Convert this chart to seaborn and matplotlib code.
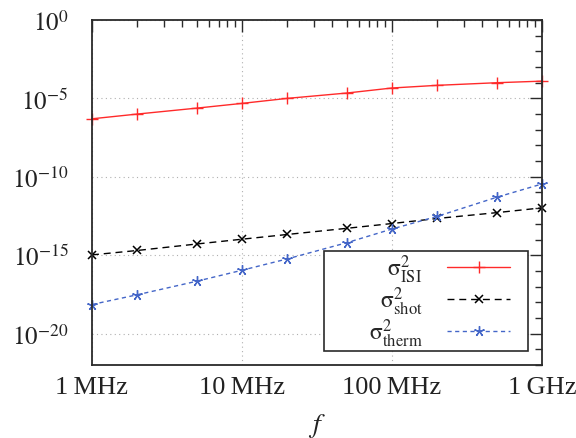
import numpy as np
import pandas as pd
import seaborn as sns
import matplotlib
matplotlib.use("Agg")
import matplotlib.pyplot as plt
from matplotlib.patches import Rectangle
from matplotlib.ticker import FixedLocator, FixedFormatter, NullFormatter

# Frequency sweep (Hz)
freq = [1e6, 2e6, 5e6, 1e7, 2e7, 5e7, 1e8, 2e8, 5e8, 1e9]

# Noise variances
sigma_isi = [5.0e-7, 1.0e-6, 2.4e-6, 4.8e-6, 1.0e-5, 2.2e-5, 4.6e-5, 6.8e-5, 1.0e-4, 1.26e-4]
sigma_shot = [1.05e-15, 2.0e-15, 5.2e-15, 1.05e-14, 2.1e-14, 5.2e-14, 1.05e-13, 2.2e-13, 5.2e-13, 1.05e-12]
sigma_therm = [7.2e-19, 3.0e-18, 2.2e-17, 1.1e-16, 5.8e-16, 6.3e-15, 4.7e-14, 3.0e-13, 5.0e-12, 3.5e-11]

x_tick_vals = [1e6, 1e7, 1e8, 1e9]
x_tick_labels = ["1\u2009MHz", "10\u2009MHz", "100\u2009MHz", "1\u2009GHz"]
y_tick_vals = [1e-20, 1e-15, 1e-10, 1e-5, 1e0]
y_tick_labels = [r"$10^{-20}$", r"$10^{-15}$", r"$10^{-10}$", r"$10^{-5}$", r"$10^{0}$"]

series_labels = [r"$\mathrm{σ}^2_{\mathrm{ISI}}$",
                 r"$\mathrm{σ}^2_{\mathrm{shot}}$",
                 r"$\mathrm{σ}^2_{\mathrm{therm}}$"]

sns.set_theme(style="white")
plt.rcParams.update({
    "font.family": "serif",
    "font.serif": ["Liberation Serif", "DejaVu Serif"],
    "mathtext.fontset": "stix",
    "axes.edgecolor": "#2a2a2a",
    "axes.linewidth": 1.3,
})

fig = plt.figure(figsize=(5.76, 4.39), dpi=100)
ax = fig.add_axes([0.1597, 0.1663, 0.7813, 0.7859])

df = pd.DataFrame({"f": freq, "isi": sigma_isi, "shot": sigma_shot, "therm": sigma_therm})

red = "#ff2a2a"
blue = "#4466c8"

sns.lineplot(data=df, x="f", y="isi", ax=ax, color=red, linewidth=1.0,
             marker="+", markersize=8.5, markeredgewidth=1.0, markeredgecolor=red,
             label=series_labels[0], clip_on=False)
sns.lineplot(data=df, x="f", y="shot", ax=ax, color="black", linewidth=1.0,
             linestyle=(0, (5, 3.5)), marker="x", markersize=5.5, markeredgewidth=1.1,
             markeredgecolor="black", label=series_labels[1], clip_on=False)
sns.lineplot(data=df, x="f", y="therm", ax=ax, color=blue, linewidth=1.0,
             linestyle=(0, (3, 2.5)), marker=(5, 2, 0), markersize=7.5, markeredgewidth=1.0,
             markeredgecolor=blue, label=series_labels[2], clip_on=False)

ax.set_xscale("log")
ax.set_yscale("log")
ax.set_xlim(1e6, 1e9)
ax.set_ylim(1e-22, 1e0)

ax.xaxis.set_major_locator(FixedLocator(x_tick_vals))
ax.xaxis.set_major_formatter(FixedFormatter(x_tick_labels))
x_minor = [m * 10 ** d for d in range(6, 9) for m in range(2, 10)]
ax.xaxis.set_minor_locator(FixedLocator(x_minor))
ax.xaxis.set_minor_formatter(NullFormatter())

ax.yaxis.set_major_locator(FixedLocator(y_tick_vals))
ax.yaxis.set_major_formatter(FixedFormatter(y_tick_labels))
y_minor = [10.0 ** e for e in range(-22, 1) if e % 5 != 0]
ax.yaxis.set_minor_locator(FixedLocator(y_minor))
ax.yaxis.set_minor_formatter(NullFormatter())

ax.tick_params(which="both", direction="in", top=True, right=True, colors="#2a2a2a",
               labelcolor="#222222")
ax.tick_params(which="major", length=8.5, width=1.0)
ax.tick_params(which="minor", length=5, width=1.0)
ax.tick_params(axis="x", which="major", labelsize=19, pad=8)
ax.tick_params(axis="y", which="major", labelsize=18, pad=17)

ax.grid(True, which="major", linestyle=(0, (1, 3)), color="#b0b0b0", linewidth=0.8)
ax.set_axisbelow(True)

ax.set_xlabel(r"$f$", fontsize=20, color="#222222", labelpad=9)
ax.set_ylabel("")

# Legend box: a plain rectangular frame with the entries placed inside it
ax.add_patch(Rectangle((0.5156, 0.0406), 0.4533, 0.2898, transform=ax.transAxes,
                       facecolor="white", edgecolor="#2a2a2a", linewidth=1.2,
                       zorder=4.5, clip_on=False))
leg = ax.legend(loc="lower right", bbox_to_anchor=(0.9289, 0.046), borderaxespad=0,
                markerfirst=False, fontsize=17, frameon=False,
                handlelength=2.65, labelspacing=0.0, borderpad=0.0,
                handletextpad=1.05)
leg.set_zorder(5)

fig.savefig("out.png", dpi=100)
